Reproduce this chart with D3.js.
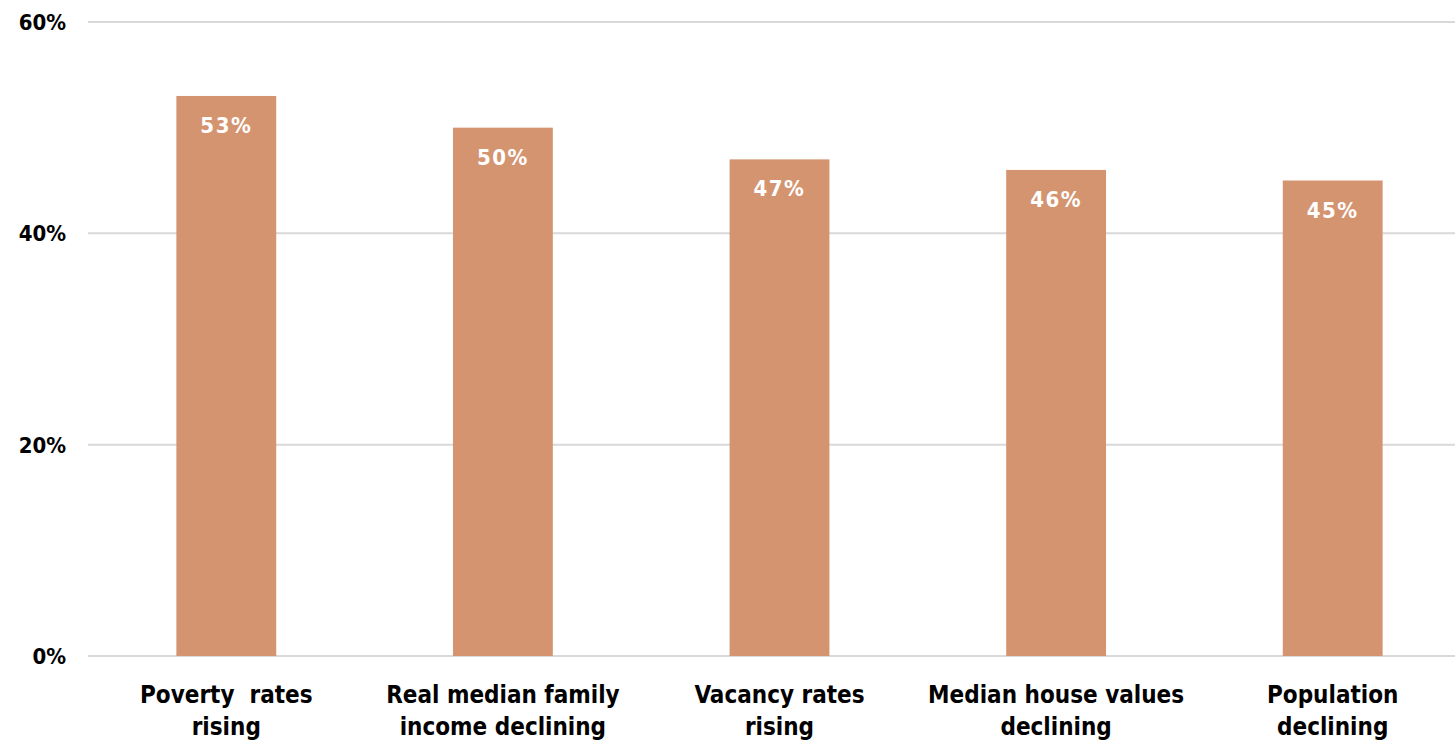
<!DOCTYPE html>
<html>
<head>
<meta charset="utf-8">
<script src="https://cdn.jsdelivr.net/npm/d3@7"></script>
<style>
  html, body { margin: 0; padding: 0; background: #ffffff; }
  svg { display: block; }
  text { font-family: "DejaVu Sans Condensed", "DejaVu Sans", sans-serif; font-stretch: condensed; font-weight: bold; }
</style>
</head>
<body>
<svg id="chart" width="1455" height="745"></svg>
<script>
// Share of places showing each sign of distress
const categories = [
  ["Poverty  rates", "rising"],
  ["Real median family", "income declining"],
  ["Vacancy rates", "rising"],
  ["Median house values", "declining"],
  ["Population", "declining"]
];
const values = [53, 50, 47, 46, 45];
const yTicks = [0, 20, 40, 60];

const svg = d3.select("#chart");
const plotLeft = 88, plotRight = 1471, plotTop = 22, plotBottom = 656;

const x = d3.scaleBand()
  .domain(d3.range(values.length))
  .range([plotLeft, plotRight])
  .paddingInner(0.639)
  .paddingOuter(0.3195);

const y = d3.scaleLinear().domain([0, 60]).range([plotBottom, plotTop]);

// gridlines
svg.append("g")
  .selectAll("line")
  .data(yTicks)
  .join("line")
  .attr("x1", plotLeft).attr("x2", 1455)
  .attr("y1", d => y(d)).attr("y2", d => y(d))
  .attr("stroke", "#d9d9d9")
  .attr("stroke-width", 2);

// y tick labels
svg.append("g")
  .selectAll("text")
  .data(yTicks)
  .join("text")
  .attr("x", 66)
  .attr("y", d => y(d) + 8)
  .attr("text-anchor", "end")
  .attr("font-size", 22)
  .attr("fill", "#000")
  .text(d => d + "%");

// bars
svg.append("g")
  .selectAll("rect")
  .data(values)
  .join("rect")
  .attr("x", (d, i) => x(i))
  .attr("width", x.bandwidth())
  .attr("y", d => y(d))
  .attr("height", d => y(0) - y(d))
  .attr("fill", "#d59470");

// value labels inside bar tops
svg.append("g")
  .selectAll("text")
  .data(values)
  .join("text")
  .attr("x", (d, i) => x(i) + x.bandwidth() / 2)
  .attr("y", d => y(d) + 37)
  .attr("text-anchor", "middle")
  .attr("font-size", 22)
  .attr("letter-spacing", 1.5)
  .attr("fill", "#ffffff")
  .text(d => d + "%");

// category labels, two lines each
const cat = svg.append("g")
  .selectAll("text")
  .data(categories)
  .join("text")
  .attr("text-anchor", "middle")
  .attr("font-size", 24)
  .attr("fill", "#000");

cat.selectAll("tspan")
  .data((d, i) => d.map(line => ({ line, i })))
  .join("tspan")
  .attr("x", d => x(d.i) + x.bandwidth() / 2)
  .attr("y", (d, j) => 703 + j * 32)
  .style("white-space", "pre")
  .text(d => d.line);
</script>
</body>
</html>
